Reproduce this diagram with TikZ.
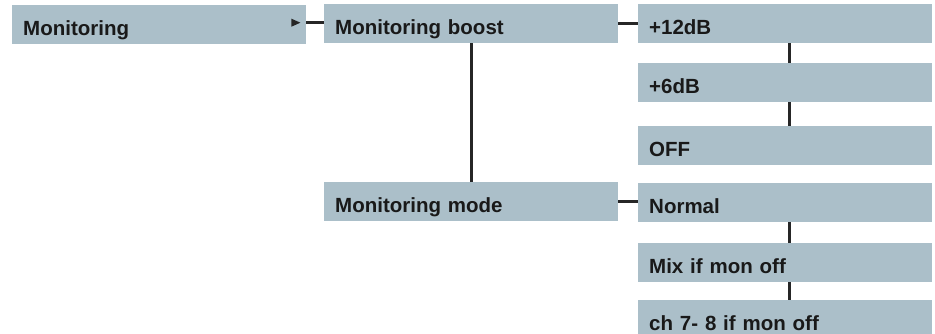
\documentclass[tikz,border=0pt]{standalone}
\usepackage{fontspec}
\setmainfont{Liberation Sans}
\usepackage{tikz}
\definecolor{menublue}{RGB}{171,191,201}
\tikzset{x=1pt, y=-1pt,
  menubox/.style={fill=menublue, anchor=north west, minimum height=39pt,
    inner xsep=11pt, inner ysep=0pt, text width=272pt, align=left,
    text height=30pt, text depth=9pt,
    font=\fontsize{20.5}{24}\selectfont\bfseries, text=black!90},
  link/.style={line width=2.6pt, draw=black!85}}

\begin{document}
\begin{tikzpicture}
\useasboundingbox (0,0) rectangle (935,334);
\node[menubox] (mon) at (12,5) {Monitoring};
\node[menubox] (boost) at (324,4) {Monitoring boost};
\node[menubox] (mode) at (324,182) {Monitoring mode};
\node[menubox] (db12) at (638,4) {+12dB};
\node[menubox] (db6) at (638,63) {+6dB};
\node[menubox] (off) at (638,126) {OFF};
\node[menubox] (norm) at (638,183) {Normal};
\node[menubox] (mix) at (638,243) {Mix if mon off};
\node[menubox] (ch) at (638,300) {ch 7- 8 if mon off};
\fill[black!85] ([xshift=-6pt,yshift=2pt]mon.east) -- ++(-9,-4) -- ++(0,8) -- cycle;
\draw[link] ([yshift=2pt]mon.east) -- ([yshift=2pt]mon.east -| boost.west);
\draw[link] (boost.south) -- (mode.north);
\draw[link] (boost.east) -- (boost.east -| db12.west);
\draw[link] (mode.east) -- (mode.east -| norm.west);
\foreach \i/\j in {db12/db6,db6/off,norm/mix,mix/ch}
{
  \draw[link] ([xshift=4pt]\i.south) -- ([xshift=4pt]\j.north);
}
\end{tikzpicture}
\end{document}
